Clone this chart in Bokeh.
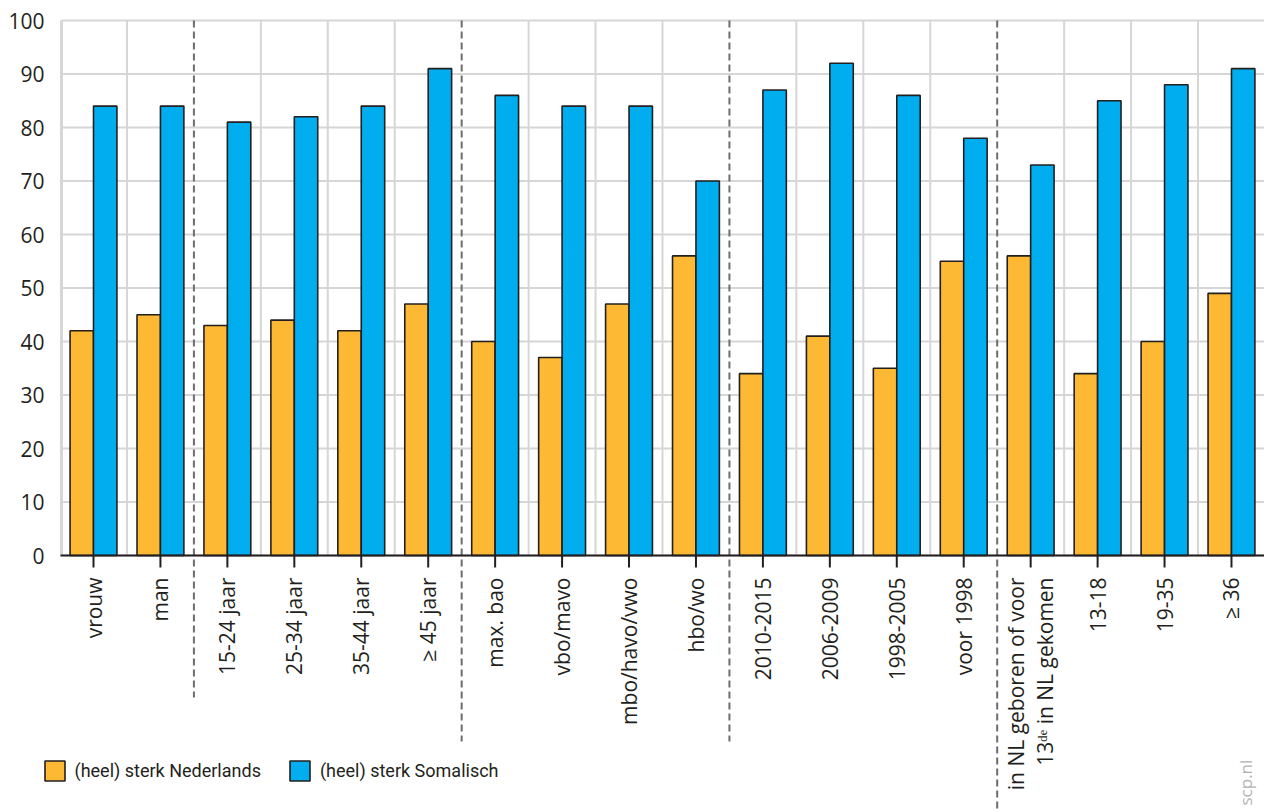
import numpy as np
from bokeh.plotting import figure
from bokeh.models import Range1d, Legend, LegendItem, ColumnDataSource
from bokeh.core.properties import value
from bokeh.embed import file_html
from bokeh.resources import INLINE

# ---------------- data ----------------
categories = [
    "vrouw", "man",
    "15-24 jaar", "25-34 jaar", "35-44 jaar", "\u2265 45 jaar",
    "max. bao", "vbo/mavo", "mbo/havo/vwo", "hbo/wo",
    "2010-2015", "2006-2009", "1998-2005", "voor 1998",
    "in NL geboren of voor\n13\u1d48\u1d49 in NL gekomen", "13-18", "19-35", "\u2265 36",
]
group_sizes = [2, 4, 4, 4, 4]
nederlands = [42, 45, 43, 44, 42, 47, 40, 37, 47, 56, 34, 41, 35, 55, 56, 34, 40, 49]
somalisch = [84, 84, 81, 82, 84, 91, 86, 84, 84, 70, 87, 92, 86, 78, 73, 85, 88, 91]
series_labels = ["(heel) sterk Nederlands", "(heel) sterk Somalisch"]
y_ticks = [0, 10, 20, 30, 40, 50, 60, 70, 80, 90, 100]

# ---------------- layout constants ----------------
ORANGE = "#fdb933"
BLUE = "#00aeef"
DARK = "#231f20"
GRID = "#d6d6d6"
FONT = "Open Sans"

FIG_W, FIG_H = 1264, 809
PAGE_X0, PAGE_Y0 = 0, 0          # where the figure lands in the picture
CAT0_PX, PX_PER_CAT = 93.0, 66.94
ZERO_PX, PX_PER_UNIT = 555.0, 5.35


def px2x(px):
    return (px - CAT0_PX) / PX_PER_CAT


def py2y(py):
    return (ZERO_PX - py) / PX_PER_UNIT


x_start, x_end = px2x(PAGE_X0), px2x(PAGE_X0 + FIG_W)
y_start, y_end = py2y(PAGE_Y0 + FIG_H), py2y(PAGE_Y0)
axis_x = px2x(61)

idx = np.arange(len(categories))

p = figure(width=FIG_W, height=FIG_H, output_backend="svg", toolbar_location=None,
           x_range=Range1d(x_start, x_end), y_range=Range1d(y_start, y_end),
           x_axis_location=None, y_axis_location=None,
           min_border_left=0, min_border_right=0, min_border_top=0, min_border_bottom=0)
p.outline_line_color = None
p.background_fill_color = "white"
p.border_fill_color = "white"
p.grid.visible = False

# horizontal grid lines + y tick labels
yt = np.array(y_ticks, dtype=float)
p.segment(x0=axis_x, y0=yt, x1=x_end, y1=yt, line_color=GRID, line_width=2)
p.text(x=px2x(44), y=yt, text=[str(t) for t in y_ticks], text_align="right",
       text_baseline="middle", text_font=value(FONT), text_font_size="21px",
       text_color=DARK)

# category boundaries
bounds = np.arange(len(categories) - 1) + 0.5
sep_idx = list(np.cumsum(group_sizes)[:-1] - 1)
sep_x = bounds[sep_idx]
grid_x = np.array([b for i, b in enumerate(bounds) if i not in sep_idx])
p.segment(x0=grid_x, y0=0, x1=grid_x, y1=max(y_ticks), line_color=GRID, line_width=2)

# left (grey) axis line
p.segment(x0=axis_x, y0=0, x1=axis_x, y1=max(y_ticks), line_color=GRID, line_width=3)

# bars
bw = 0.35
src1 = ColumnDataSource(dict(x=idx - bw / 2, top=nederlands))
src2 = ColumnDataSource(dict(x=idx + bw / 2, top=somalisch))
r1 = p.vbar(x="x", top="top", width=bw, bottom=0, source=src1, fill_color=ORANGE,
            line_color=DARK, line_width=1.6)
r2 = p.vbar(x="x", top="top", width=bw, bottom=0, source=src2, fill_color=BLUE,
            line_color=DARK, line_width=1.6)

# group separators (dashed), extending into the label area
sep_end = [py2y(697), py2y(741), py2y(741), y_start]
p.segment(x0=sep_x, y0=max(y_ticks), x1=sep_x, y1=sep_end, line_color="#6d6d6d",
          line_width=2, line_dash="7 4")

# bottom axis line + ticks
p.segment(x0=px2x(60), y0=0, x1=x_end, y1=0, line_color=DARK, line_width=2)
p.segment(x0=idx, y0=0, x1=idx, y1=-12 / PX_PER_UNIT, line_color=DARK, line_width=2)

# category labels
p.text(x=idx, y=0, text=categories, angle=np.pi / 2, y_offset=22,
       text_align="right", text_baseline="middle", text_font=value(FONT),
       text_font_size="21px", text_color=DARK, text_line_height=1.05)

# watermark
p.text(x=[px2x(1245)], y=[py2y(805)], text=["scp.nl"],
       angle=np.pi / 2, text_align="left", text_baseline="middle",
       text_font=value(FONT), text_font_size="17px", text_color="#b3b3b3")

# legend (area glyphs are drawn inset by 10%, so a 25px slot gives a 20px square)
legend = Legend(items=[LegendItem(label=series_labels[0], renderers=[r1]),
                       LegendItem(label=series_labels[1], renderers=[r2])],
                orientation="horizontal", location=(41.5 - PAGE_X0, PAGE_Y0 + FIG_H - 782.5))
legend.padding = 0
legend.margin = 0
legend.spacing = 26
legend.border_line_color = None
legend.background_fill_alpha = 0
legend.glyph_width = 25
legend.glyph_height = 25
legend.label_standoff = 8
legend.label_height = 25
legend.label_text_font = "Roboto"
legend.label_text_font_size = "18px"
legend.label_text_color = DARK
p.add_layout(legend)

open("out.html", "w").write(file_html(p, INLINE))
